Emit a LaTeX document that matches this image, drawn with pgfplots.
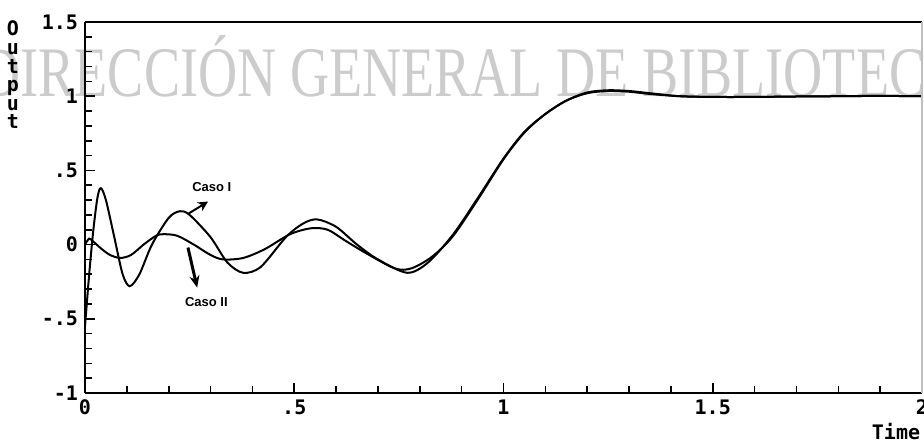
\documentclass[border=0pt]{standalone}
\usepackage{fontspec}
\usepackage{graphicx}
\usepackage{pgfplots}
\pgfplotsset{compat=1.18}
\usetikzlibrary{arrows.meta}
\newfontfamily\monof{DejaVu Sans Mono}
\newfontfamily\wmfont{Liberation Serif}
\newfontfamily\annfont{Liberation Sans}
\begin{document}
\begin{tikzpicture}
\useasboundingbox (-42.5pt,-25pt) rectangle (419.5pt,196.5pt);
\node[anchor=base west, text=black!20, font=\wmfont\fontsize{27.1}{27.1}\selectfont, inner sep=0pt] at (-52pt,148pt) {\scalebox{1}[1.31]{DIRECCIÓN GENERAL DE BIBLIOTECAS}};
\begin{axis}[
  scale only axis, width=418.5pt, height=185.5pt,
  xmin=0, xmax=2, ymin=-1, ymax=1.5,
  axis x line=bottom, axis y line=left,
  axis line style={-, line width=1.4pt},
  xtick={0,0.5,1,1.5,2}, xticklabels={0,.5,1,1.5,2},
  ytick={-1,-0.5,0,0.5,1,1.5}, yticklabels={-1,-.5,0,.5,1,1.5},
  minor x tick num=4, minor y tick num=4,
  tick align=inside,
  major tick length=5pt, minor tick length=3.5pt,
  tick style={black, line width=0.8pt},
  tick label style={font=\monof\bfseries\fontsize{10}{10}\selectfont},
  clip=false,
]
\addplot[black, line width=1pt, smooth] coordinates {
(0,-0.55) (0.01,-0.2) (0.02,0.1) (0.03,0.32) (0.038,0.38) (0.05,0.3) (0.07,0.05) (0.09,-0.2) (0.107,-0.28) (0.13,-0.2) (0.16,0.0) (0.2,0.18) (0.227,0.225) (0.25,0.2) (0.3,0.05) (0.34,-0.12) (0.378,-0.19) (0.42,-0.15) (0.48,0.05) (0.52,0.14) (0.554,0.17) (0.6,0.12) (0.65,0.0) (0.7,-0.1) (0.77,-0.19) (0.82,-0.12) (0.88,0.07) (0.94,0.32) (1.0,0.58) (1.05,0.76) (1.1,0.88) (1.15,0.97) (1.2,1.02) (1.25,1.035) (1.3,1.03) (1.35,1.015) (1.42,1.0) (1.5,0.995) (1.6,0.995) (1.7,0.998) (1.8,1.0) (1.9,1.002) (2.0,1.0)
};
\addplot[black, line width=1pt, smooth] coordinates {
(0,0) (0.01,0.04) (0.02,0.02) (0.04,-0.03) (0.06,-0.07) (0.084,-0.09) (0.11,-0.07) (0.14,0.0) (0.17,0.06) (0.187,0.07) (0.22,0.06) (0.26,0.0) (0.3,-0.07) (0.33,-0.1) (0.378,-0.09) (0.43,-0.03) (0.49,0.07) (0.54,0.11) (0.58,0.1) (0.62,0.03) (0.67,-0.055) (0.74,-0.16) (0.78,-0.16) (0.83,-0.08) (0.88,0.06) (0.94,0.31) (1.0,0.575) (1.05,0.755) (1.1,0.88) (1.15,0.97) (1.2,1.025) (1.25,1.04) (1.3,1.035) (1.35,1.02) (1.42,1.0) (1.5,0.995) (1.6,0.995) (1.7,0.998) (1.8,1.0) (1.9,1.002) (2.0,1.0)
};
\draw[line width=1.4pt] (rel axis cs:0,1) -- (rel axis cs:1,1);
\draw[black!25, line width=0.6pt] (rel axis cs:1,0) -- (rel axis cs:1,1);
\draw[-{Stealth[length=5pt,width=5pt]}, line width=1pt] (axis cs:0.248,0.21) -- (axis cs:0.294,0.29);
\draw[-{Stealth[length=6pt,width=5pt]}, line width=1.5pt] (axis cs:0.246,-0.02) -- (axis cs:0.268,-0.29);
\node[font=\annfont\bfseries\fontsize{6.5}{6.5}\selectfont] at (axis cs:0.303,0.385) {Caso I};
\node[font=\annfont\bfseries\fontsize{6.5}{6.5}\selectfont] at (axis cs:0.29,-0.39) {Caso II};
\end{axis}
\node[font=\monof\bfseries\fontsize{10}{9.3}\selectfont, align=center] at (-36pt,159pt) {O\\u\\t\\p\\u\\t};
\node[font=\monof\bfseries\fontsize{10}{10}\selectfont] at (405.5pt,-19.5pt) {Time};
\end{tikzpicture}
\end{document}
